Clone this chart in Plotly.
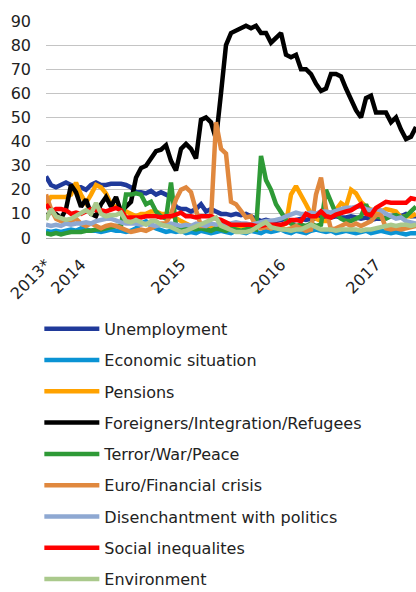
import plotly.graph_objects as go

# Survey waves (index), about 20 per year, late 2013 to mid 2017
survey = list(range(1, 76))

year_labels = ["2013*", "2014", "2015", "2016", "2017"]
year_first_survey = [1, 8, 28, 48, 67]

series_names = [
    "Unemployment", "Economic situation", "Pensions",
    "Foreigners/Integration/Refugees", "Terror/War/Peace", "Euro/Financial crisis",
    "Disenchantment with politics", "Social inequalites", "Environment",
]
series_colors = [
    "#203a9a", "#0a93d4", "#ffa200", "#000000", "#2e9a36",
    "#e0883e", "#8ea8d2", "#ff0000", "#aac98c",
]

unemployment = [25.5, 22, 21, 22, 23, 22, 21, 21, 20, 22, 23, 22, 22, 22.5, 22.5, 22.5, 22, 21, 19, 19,
                18.5, 19.5, 18, 19, 18, 17, 13, 12, 12, 11, 12, 14, 11, 12, 11, 10, 10, 9.5, 10, 9.5,
                10, 9, 8, 7, 7.5, 7, 7, 7.5, 8, 7, 7.5, 8, 7.5, 8, 8, 8.5, 8, 8.5, 9, 8.5,
                8.5, 9, 8.5, 8, 8.5, 7.5, 8, 8, 8.5, 9, 9.5, 9, 10, 9, 9]
economic_situation = [3, 2.5, 3, 2.5, 3, 3.5, 3, 4, 3.5, 3, 3, 2.5, 3, 3.5, 3, 3, 2.5, 3, 4, 6,
                      7, 5, 4, 3, 2.5, 3, 2.5, 3, 2, 2.5, 2, 3, 2.5, 2, 2.5, 3, 2.5, 2, 3, 2.5,
                      2, 3, 2.5, 2, 3, 2.5, 3, 3.5, 2.5, 2, 3, 2.5, 2, 3, 3.5, 3, 2.5, 3, 2, 2.5,
                      3, 2.5, 2, 2.5, 3, 2, 2.5, 3, 2.5, 2, 2.5, 2, 1.5, 2, 2]
pensions = [14, 17, 17, 17, 17, 18, 23, 18, 14.5, 18, 22, 21, 18.5, 14, 13, 12, 11, 10, 9, 10,
            10, 11, 11, 10, 10, 9.5, 8, 7, 6, 5, 5, 6, 5, 4.5, 5, 4, 5, 4.5, 4, 5,
            4.5, 4, 5, 4.5, 5, 4, 4.5, 5, 6, 18, 21.5, 18, 14, 10, 8, 7, 7, 9, 12, 14.5,
            13, 20, 18.5, 15, 13, 11.7, 10.5, 11, 12, 11.5, 11, 8.5, 9, 9, 10]
foreigners = [9, 11, 10, 8, 12, 22, 19, 13, 16, 10, 9, 14, 17, 13, 17, 11, 13, 15, 25, 29,
              30, 33, 36, 36.6, 38.5, 32, 28, 37, 39, 37, 33, 49, 50, 48, 41, 60, 80, 85, 86, 87,
              88, 87, 88, 85, 85, 81, 83, 85, 76, 75, 76, 70, 70, 68, 64, 61, 62, 68, 68, 67,
              62, 57, 53, 50, 58, 59, 52, 52, 52, 48, 50, 45, 41, 42, 46]
terror = [2, 1.5, 2, 1.5, 2, 2.5, 2.5, 2.5, 3, 3, 3.5, 3.5, 4, 4.5, 5, 5, 18, 18, 18.5, 18,
          14, 15, 11, 9, 8, 23, 5, 4, 4.5, 4, 3.5, 4, 3.5, 3, 4, 3.5, 3, 4, 3.5, 3,
          3.5, 4, 3.5, 34, 24, 20, 14, 11, 7.5, 6, 5, 5.5, 5, 6, 5, 5.5, 20, 15, 10, 8,
          7, 7, 8, 9, 14, 9, 9, 8.5, 8, 9, 9.5, 8.5, 9, 11, 13]
euro_crisis = [18, 12, 8, 7, 6, 7, 8, 6, 5, 6, 5, 4, 5, 5.5, 5, 4, 3, 2.5, 3, 3.5,
               3, 4, 5, 6, 6, 10, 16, 20, 21, 19, 11.5, 5, 5, 8, 48, 37, 35, 15, 14, 11,
               8.5, 9, 5, 4, 4.5, 4, 5, 4, 3.5, 4, 5, 4, 3, 3.5, 18, 25, 12, 3.5, 4, 5,
               6, 5, 6, 5, 6, 7, 9.5, 9.7, 4, 3.5, 4, 3.5, 4, 4.5, 5]
disenchantment = [5.5, 5, 5.5, 5, 6, 5.5, 6, 6, 6.5, 6, 7, 7.5, 8, 8, 7, 6.5, 6, 6, 6, 5.5,
                  6, 5.5, 5, 5.5, 5, 6, 5.5, 5, 5.5, 5, 6, 5.5, 5, 6, 5.5, 6, 5.5, 6, 6.5, 6,
                  6, 5.5, 6, 6.5, 7, 7, 7.5, 8, 9, 10, 10.5, 10, 10, 10.5, 10, 11, 11, 10.5, 11.5, 12,
                  12.5, 12.5, 13, 13, 12, 11.5, 12, 11.5, 10, 9, 8, 8.5, 7, 6.5, 6]
social_inequalities = [14, 11, 12, 12, 11.5, 10, 10.5, 10, 11, 12, 11.5, 11.5, 11, 12, 12.5, 11.5, 8.5, 8.5, 8.5, 8.5,
                       9, 9, 9, 8.5, 9, 9, 10, 10.5, 9, 9, 8.5, 9, 9, 9, 8, 7.5, 6.5, 5.5, 5.5, 5.5,
                       5.5, 5.5, 5, 5, 5.5, 5.5, 5.5, 5.5, 6, 7.5, 7.5, 7, 10, 9, 9, 11, 9, 8.5, 9.7, 10.5,
                       11, 11.5, 12.5, 14, 10, 9.5, 12.5, 14, 15, 14.6, 14.5, 14.6, 14.6, 16.5, 16]
environment = [7.5, 12, 9, 8, 7.5, 8, 9, 10, 11.5, 10, 14.5, 10, 9, 9.5, 9.5, 10.5, 7, 6.5, 7.5, 6.5,
               5.5, 7, 7, 5.5, 5, 4.5, 3.5, 2.5, 3, 4, 5, 5.5, 6.5, 7.5, 8.5, 5, 4, 3, 2.5, 2.5,
               2.5, 3, 4.5, 5.5, 6.5, 4.5, 4, 3.5, 3.5, 3, 3.5, 3.5, 4.5, 5.5, 4.5, 3.5, 3.5, 3.5, 3, 3.5,
               3.5, 3.5, 3.5, 3, 3.5, 3.5, 4, 4.5, 5, 5.5, 5, 5.5, 5.5, 5, 5.5]

series_values = [unemployment, economic_situation, pensions, foreigners, terror,
                 euro_crisis, disenchantment, social_inequalities, environment]

fig = go.Figure()
for name, color, values in zip(series_names, series_colors, series_values):
    fig.add_trace(go.Scatter(
        x=survey,
        y=values,
        name=name,
        mode="lines",
        line=dict(color=color, width=4.5),
        legendgroup=name,
    ))

fig.update_layout(
    width=416,
    height=592,
    margin=dict(l=46, r=0, t=21, b=354, autoexpand=False),
    paper_bgcolor="white",
    plot_bgcolor="white",
    font=dict(family="DejaVu Sans, sans-serif", size=16, color="#222222"),
    showlegend=True,
    legend=dict(
        orientation="v",
        x=-0.018,
        xanchor="left",
        y=-0.34,
        yanchor="top",
        itemwidth=55,
        tracegroupgap=7.5,
        maxheight=600,
        font=dict(size=16, color="#222222"),
        bgcolor="rgba(0,0,0,0)",
    ),
    xaxis=dict(
        range=[1, 75],
        tickmode="array",
        tickvals=year_first_survey,
        ticktext=year_labels,
        tickangle=-45,
        showgrid=False,
        zeroline=False,
        showline=True,
        linecolor="#a6a6a6",
        linewidth=1,
        ticks="",
        ticklabelstandoff=10,
        tickfont=dict(size=16, color="#222222"),
    ),
    yaxis=dict(
        range=[0, 90],
        tickmode="linear",
        tick0=0,
        dtick=10,
        showgrid=True,
        gridcolor="#c4c4c4",
        gridwidth=1,
        zeroline=False,
        showline=False,
        ticks="",
        ticklabelstandoff=14,
        tickfont=dict(size=16, color="#222222"),
    ),
)

# drop the default page margin so the figure sits at the window corner
fig.write_html(
    "out.html",
    config={"displayModeBar": False},
    post_script="document.body.style.margin='0';document.body.style.overflow='hidden';",
)
